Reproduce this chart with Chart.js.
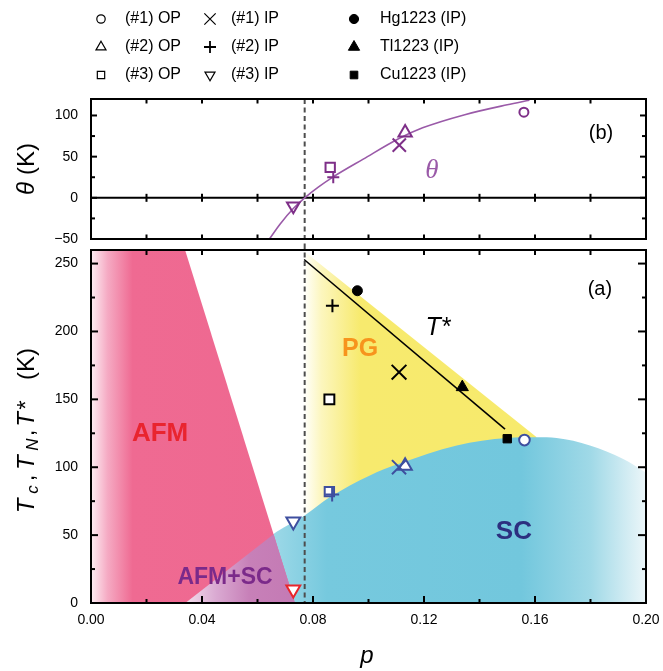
<!DOCTYPE html>
<html><head><meta charset="utf-8">
<script src="https://cdn.jsdelivr.net/npm/chart.js@4.4.1/dist/chart.umd.min.js"></script>
<style>
html,body{margin:0;padding:0;background:#fff;}
#wrap{position:relative;width:663px;height:671px;overflow:hidden;background:#fff;}
canvas{position:absolute;left:0;}
#c1{top:0;} #c2{top:240px;}
</style></head><body>
<div id="wrap"><canvas id="c1" width="663" height="250"></canvas><canvas id="c2" width="663" height="431"></canvas></div>
<script>
// ---------------- data ----------------
const xTickLabels = [0, 0.04, 0.08, 0.12, 0.16, 0.20];
const thetaTickLabels = [-50, 0, 50, 100];
const tempTickLabels = [0, 50, 100, 150, 200, 250];
const pDashed = 0.077;

// panel (b): theta
const thetaNames = ['(#1) OP', '(#2) OP', '(#3) OP', '(#1) IP', '(#2) IP', '(#3) IP'];
const thetaP = [0.156, 0.1132, 0.0862, 0.1111, 0.0873, 0.0729];
const thetaK = [104, 79, 37, 64, 25, -10];
const thetaCurveP = [0.0643, 0.0681, 0.0729, 0.0770, 0.0819, 0.0873, 0.0981, 0.1110, 0.1195, 0.1347, 0.1500, 0.1580];
const thetaCurveK = [-50, -32, -13, 0, 13, 25.5, 47, 72, 85, 101, 113, 118.5];

// panel (a): T*, Tc, TN
const tStarNames = ['(#3) OP', '(#2) IP', '(#1) IP', 'Hg1223 (IP)', 'Tl1223 (IP)', 'Cu1223 (IP)'];
const tStarP = [0.0859, 0.0870, 0.1110, 0.0960, 0.1338, 0.1500];
const tStarK = [150, 219, 170, 230, 159, 121];
const tcNames = ['(#1) OP', '(#2) OP', '(#3) OP', '(#1) IP', '(#2) IP', '(#3) IP'];
const tcP = [0.1562, 0.1132, 0.0859, 0.1110, 0.0869, 0.0729];
const tcK = [120, 101, 82, 100, 80, 60];
const tnP = [0.0729];
const tnK = [10];
const tStarLineP = [0.0768, 0.1492];
const tStarLineK = [253, 128];

// phase regions (boundaries)
const afmP = [0, 0, 0.0339, 0.0735];
const afmK = [0, 260, 260, 0];
const pgP = [0.0768, 0.0768, 0.1606, 0.1606];
const pgK = [0, 259, 122, 0];
const scP = [0.034, 0.050, 0.0669, 0.0771, 0.0861, 0.1005, 0.111, 0.1318, 0.150, 0.1606, 0.1678, 0.1798, 0.1918, 0.200];
const scK = [0, 25.5, 52.4, 64.6, 78, 94, 102.5, 116, 121.5, 122, 121.5, 116, 106, 96];
const afmScP = [0.034, 0.0658, 0.0735];
const afmScK = [0, 50.6, 0];

// region labels
const regionText = ['AFM', 'PG', 'SC', 'AFM+SC', '(a)'];
const regionP = [0.0249, 0.097, 0.1524, 0.0483, 0.1834];
const regionK = [124.5, 186.7, 52.4, 18.3, 230.6];

// legend
const legendCol1 = ['(#1) OP', '(#2) OP', '(#3) OP'];
const legendCol2 = ['(#1) IP', '(#2) IP', '(#3) IP'];
const legendCol3 = ['Hg1223 (IP)', 'Tl1223 (IP)', 'Cu1223 (IP)'];

// ---------------- helpers ----------------
const SANS = '"Liberation Sans", Arial, Helvetica, sans-serif';
const SERIF = '"Liberation Serif", "DejaVu Serif", serif';
const BLUE = '#3e4f9f';
const RED = '#e8262b';
const PURPLE = '#7e2f88';
const THETA_COL = '#9a5aa8';

const pts = (P, K) => P.map((p, i) => ({x: p, y: K[i]}));

function hGrad(chart, stops, fallback) {
  const a = chart.chartArea;
  if (!a) return fallback;
  const xs = chart.scales.x;
  const x0 = xs.getPixelForValue(stops[0][0]);
  const x1 = xs.getPixelForValue(stops[stops.length - 1][0]);
  const g = chart.ctx.createLinearGradient(x0, 0, x1, 0);
  stops.forEach(([p, c]) => g.addColorStop(Math.min(1, Math.max(0, (xs.getPixelForValue(p) - x0) / (x1 - x0))), c));
  return g;
}

function drawSym(ctx, style, x, y, r, rot, stroke, fill, lw) {
  ctx.save();
  ctx.lineWidth = lw; ctx.strokeStyle = stroke; ctx.fillStyle = fill || 'rgba(0,0,0,0)';
  ctx.beginPath();
  if (style === 'circle') {
    ctx.arc(x, y, r, 0, Math.PI * 2);
  } else if (style === 'triangle') {
    let rad = rot * Math.PI / 180;
    for (let i = 0; i < 3; i++) {
      const px = x + Math.sin(rad) * r, py = y - Math.cos(rad) * r;
      if (i === 0) ctx.moveTo(px, py); else ctx.lineTo(px, py);
      rad += 2 * Math.PI / 3;
    }
    ctx.closePath();
  } else if (style === 'rect') {
    const s = r * Math.SQRT1_2;
    ctx.rect(x - s, y - s, 2 * s, 2 * s);
  } else if (style === 'cross') {
    ctx.moveTo(x - r, y); ctx.lineTo(x + r, y); ctx.moveTo(x, y - r); ctx.lineTo(x, y + r);
  } else if (style === 'crossRot') {
    const d = r * Math.SQRT1_2;
    ctx.moveTo(x - d, y - d); ctx.lineTo(x + d, y + d); ctx.moveTo(x - d, y + d); ctx.lineTo(x + d, y - d);
  }
  if (fill && style !== 'cross' && style !== 'crossRot') ctx.fill();
  ctx.stroke();
  ctx.restore();
}

function frameTicks(chart, xT, yT) {
  const {ctx, chartArea: a, scales: {x, y}} = chart;
  ctx.save();
  ctx.strokeStyle = '#000'; ctx.lineWidth = 2;
  const line = (x1, y1, x2, y2) => { ctx.beginPath(); ctx.moveTo(x1, y1); ctx.lineTo(x2, y2); ctx.stroke(); };
  xT.forEach(([v, lb, lt]) => { const px = x.getPixelForValue(v); line(px, a.bottom, px, a.bottom - lb); line(px, a.top, px, a.top + lt); });
  yT.forEach(([v, ll, lr]) => { const py = y.getPixelForValue(v); line(a.left, py, a.left + ll, py); line(a.right, py, a.right - lr, py); });
  ctx.lineWidth = 2;
  ctx.strokeRect(a.left, a.top, a.right - a.left, a.bottom - a.top);
  ctx.restore();
}

function dashedV(chart, yFrom, yTo) {
  const {ctx, scales: {x}} = chart;
  const px = x.getPixelForValue(pDashed);
  ctx.save();
  ctx.strokeStyle = '#4d4d4d'; ctx.lineWidth = 2; ctx.setLineDash([5, 3.5]);
  ctx.beginPath(); ctx.moveTo(px, yFrom); ctx.lineTo(px, yTo); ctx.stroke();
  ctx.restore();
}

function rotText(ctx, bx, by, segs) {
  ctx.save();
  ctx.translate(bx, by); ctx.rotate(-Math.PI / 2);
  ctx.fillStyle = '#000'; ctx.textBaseline = 'alphabetic'; ctx.textAlign = 'left';
  segs.forEach(s => { ctx.font = s.f; ctx.fillText(s.t, s.dx, s.dy || 0); });
  ctx.restore();
}

const baseOpts = {
  responsive: false, animation: false, events: [], devicePixelRatio: 1,
  plugins: {legend: {display: false}, tooltip: {enabled: false}},
};

// ---------------- top chart (b) ----------------
const topXT = [];
for (let i = 1; i < 10; i++) topXT.push([i * 0.02, 4.5, 4.5]);
const topYT = [];
for (let v = -25; v < 120; v += 25) topYT.push([v, v % 50 === 0 ? 6 : 4, v % 50 === 0 ? 6 : 4]);

const topPlugin = {
  id: 'topDecor',
  beforeDatasetsDraw(chart) {
    const {ctx, chartArea: a, scales: {x, y}} = chart;
    dashedV(chart, a.top, 244);
    const y0 = y.getPixelForValue(0);
    ctx.save(); ctx.strokeStyle = '#000'; ctx.lineWidth = 2;
    ctx.beginPath(); ctx.moveTo(a.left, y0); ctx.lineTo(a.right, y0); ctx.stroke();
    topXT.forEach(([v]) => { const px = x.getPixelForValue(v); ctx.beginPath(); ctx.moveTo(px, y0 - 4); ctx.lineTo(px, y0 + 4); ctx.stroke(); });
    ctx.restore();
  },
  afterDatasetsDraw(chart) {
    const {ctx, scales: {x, y}} = chart;
    ctx.save();
    ctx.textAlign = 'center'; ctx.textBaseline = 'middle';
    ctx.fillStyle = '#000'; ctx.font = '20px ' + SANS;
    ctx.fillText('(b)', x.getPixelForValue(0.1838), y.getPixelForValue(78.6));
    ctx.fillStyle = THETA_COL; ctx.font = 'italic 27px ' + SERIF;
    ctx.fillText('θ', x.getPixelForValue(0.1228), y.getPixelForValue(32.2));
    ctx.restore();
  },
  afterDraw(chart) {
    const ctx = chart.ctx;
    frameTicks(chart, topXT, topYT);
    rotText(ctx, 34, 195, [
      {t: 'θ', f: 'italic 24px ' + SANS, dx: 0},
      {t: '(K)', f: '24px ' + SANS, dx: 20}
    ]);
    // legend
    const rows = [19, 47, 75];
    const c1 = [['circle', 4.2, 0], ['triangle', 5.8, 0], ['rect', 5.2, 0]];
    const c2 = [['crossRot', 8, 0], ['cross', 6, 0], ['triangle', 5.8, 180]];
    const c3 = [['circle', 4.6, 0], ['triangle', 6.5, 0], ['rect', 5.4, 0]];
    ctx.save();
    ctx.fillStyle = '#000'; ctx.font = '16px ' + SANS; ctx.textBaseline = 'middle'; ctx.textAlign = 'left';
    rows.forEach((ry, i) => {
      drawSym(ctx, c1[i][0], 101, ry, c1[i][1], c1[i][2], '#000', null, 1.2);
      ctx.fillText(legendCol1[i], 125, ry);
      drawSym(ctx, c2[i][0], 210, ry, c2[i][1], c2[i][2], '#000', null, c2[i][0] === 'cross' ? 1.8 : 1.2);
      ctx.fillText(legendCol2[i], 231, ry);
      drawSym(ctx, c3[i][0], 354, ry, c3[i][1], c3[i][2], '#000', '#000', 1);
      ctx.fillText(legendCol3[i], 380, ry);
    });
    ctx.restore();
  }
};

new Chart(document.getElementById('c1'), {
  type: 'line',
  data: {
    datasets: [
      {
        data: pts(thetaP, thetaK), showLine: false,
        pointStyle: ['circle', 'triangle', 'rect', 'crossRot', 'cross', 'triangle'],
        pointRadius: [4.5, 7.7, 6.6, 9.4, 6, 7.3],
        pointRotation: [0, 0, 0, 0, 0, 180],
        pointBorderColor: PURPLE, pointBackgroundColor: 'rgba(255,255,255,0)', pointBorderWidth: 2,
        order: 1
      },
      {
        data: pts(thetaCurveP, thetaCurveK), borderColor: THETA_COL, borderWidth: 1.6,
        pointRadius: 0, fill: false, cubicInterpolationMode: 'monotone', order: 2
      }
    ]
  },
  options: {
    ...baseOpts,
    layout: {padding: {top: 99, left: 0, right: 17, bottom: 11}},
    scales: {
      x: {type: 'linear', min: 0, max: 0.2, grid: {display: false, drawTicks: false}, border: {display: false},
          ticks: {display: false}, afterFit: s => { s.height = 0; s.paddingLeft = 0; s.paddingRight = 0; }},
      y: {type: 'linear', min: -50, max: 120, grid: {display: false, drawTicks: false}, border: {display: false},
          ticks: {stepSize: 50, includeBounds: false, color: '#000', padding: 13, font: {family: SANS, size: 14},
                  callback: v => (thetaTickLabels.includes(v) ? String(v).replace('-', '\u2212') : '')},
          afterFit: s => { s.width = 91; s.paddingTop = 0; s.paddingBottom = 0; }}
    }
  },
  plugins: [topPlugin]
});

// ---------------- bottom chart (a) ----------------
const botXT = [];
for (let i = 1; i < 10; i++) botXT.push([i * 0.02, i % 2 === 0 ? 7 : 4, 5]);
const botYT = [];
for (let v = 25; v < 260; v += 25) botYT.push([v, v % 50 === 0 ? 7 : 4, v % 50 === 0 ? 8 : 4]);

const botPlugin = {
  id: 'botDecor',
  afterDatasetDraw(chart, args) {
    if (chart.data.datasets[args.index].tag === 'lastFill') dashedV(chart, 4, chart.chartArea.bottom);
  },
  afterDatasetsDraw(chart) {
    const {ctx, scales: {x, y}} = chart;
    const styles = [
      ['bold 26px ' + SANS, '#e9242f'],
      ['bold 25px ' + SANS, '#f7941d'],
      ['bold 26px ' + SANS, '#2c2f7f'],
      ['bold 23px ' + SANS, '#7b2a8a'],
      ['20px ' + SANS, '#000']
    ];
    ctx.save();
    ctx.textAlign = 'center'; ctx.textBaseline = 'middle';
    regionText.forEach((t, i) => {
      ctx.font = styles[i][0]; ctx.fillStyle = styles[i][1];
      ctx.fillText(t, x.getPixelForValue(regionP[i]), y.getPixelForValue(regionK[i]));
    });
    ctx.font = 'italic 25px ' + SANS; ctx.fillStyle = '#000';
    ctx.fillText('T*', x.getPixelForValue(0.125), y.getPixelForValue(202.5));
    ctx.restore();
  },
  afterDraw(chart) {
    const ctx = chart.ctx;
    frameTicks(chart, botXT, botYT);
    ctx.save();
    ctx.fillStyle = '#000'; ctx.font = 'italic 24px ' + SANS; ctx.textAlign = 'center'; ctx.textBaseline = 'alphabetic';
    ctx.fillText('p', 367, 423);
    ctx.restore();
    const it = 'italic 24px ' + SANS, sub = 'italic 17px ' + SANS, nor = '24px ' + SANS;
    rotText(ctx, 34, 273.3, [
      {t: 'T', f: it, dx: 0}, {t: 'c', f: sub, dx: 19.5, dy: 4},
      {t: ',', f: nor, dx: 32}, {t: 'T', f: it, dx: 43.3}, {t: 'N', f: sub, dx: 62.5, dy: 4},
      {t: ',', f: nor, dx: 77}, {t: 'T', f: it, dx: 86.6}, {t: '*', f: nor, dx: 103.5},
      {t: '(K)', f: nor, dx: 133.3}
    ]);
  }
};

new Chart(document.getElementById('c2'), {
  type: 'line',
  data: {
    datasets: [
      { // PG region
        data: pts(pgP, pgK), fill: 'origin', borderWidth: 0, pointRadius: 0, order: 20,
        backgroundColor: c => hGrad(c.chart, [[0.0768, 'rgb(255,255,252)'], [0.083, 'rgb(252,246,190)'], [0.097, 'rgb(247,234,110)'], [0.1606, 'rgb(247,234,108)']], 'rgb(247,234,110)')
      },
      { // SC dome
        data: pts(scP, scK), fill: 'origin', borderWidth: 0, pointRadius: 0, order: 19,
        cubicInterpolationMode: 'monotone',
        backgroundColor: c => hGrad(c.chart, [[0.034, 'rgb(238,247,250)'], [0.06, 'rgb(168,221,234)'], [0.085, 'rgb(118,201,222)'], [0.155, 'rgb(114,199,221)'], [0.18, 'rgb(160,217,231)'], [0.2, 'rgb(236,246,249)']], 'rgb(118,201,222)')
      },
      { // AFM
        data: pts(afmP, afmK), fill: 'origin', borderWidth: 0, pointRadius: 0, order: 18,
        backgroundColor: c => hGrad(c.chart, [[0, 'rgb(253,238,243)'], [0.006, 'rgb(245,170,195)'], [0.015, 'rgb(239,106,146)'], [0.0735, 'rgb(238,104,144)']], 'rgb(239,106,146)')
      },
      { // AFM+SC overlap
        data: pts(afmScP, afmScK), fill: 'origin', borderWidth: 0, pointRadius: 0, order: 17, tag: 'lastFill',
        backgroundColor: c => hGrad(c.chart, [[0.034, 'rgb(242,222,236)'], [0.045, 'rgb(218,170,210)'], [0.057, 'rgb(199,128,184)'], [0.0735, 'rgb(196,122,180)']], 'rgb(199,128,184)')
      },
      { // T* line
        data: pts(tStarLineP, tStarLineK), borderColor: '#000', borderWidth: 1.6, pointRadius: 0, fill: false, order: 10
      },
      { // T* markers
        data: pts(tStarP, tStarK), showLine: false, order: 3,
        pointStyle: ['rect', 'cross', 'crossRot', 'circle', 'triangle', 'rect'],
        pointRadius: [7, 6.5, 10.4, 5, 7, 5.9],
        pointRotation: 0,
        pointBorderColor: '#000',
        pointBackgroundColor: ['#fff', '#fff', '#fff', '#000', '#000', '#000'],
        pointBorderWidth: [2, 2, 2, 1, 1, 1]
      },
      { // Tc markers
        data: pts(tcP, tcK), showLine: false, order: 2,
        pointStyle: ['circle', 'triangle', 'rect', 'crossRot', 'cross', 'triangle'],
        pointRadius: [5.3, 7.7, 6.6, 10, 7, 8],
        pointRotation: [0, 0, 0, 0, 0, 180],
        pointBorderColor: BLUE, pointBackgroundColor: '#fff', pointBorderWidth: 2
      },
      { // TN marker
        data: pts(tnP, tnK), showLine: false, order: 1,
        pointStyle: 'triangle', pointRadius: 8, pointRotation: 180,
        pointBorderColor: RED, pointBackgroundColor: '#fff', pointBorderWidth: 2
      }
    ]
  },
  options: {
    ...baseOpts,
    layout: {padding: {top: 9, left: 0, right: 17, bottom: 0}},
    scales: {
      x: {type: 'linear', min: 0, max: 0.2, grid: {display: false, drawTicks: false}, border: {display: false},
          ticks: {stepSize: 0.04, includeBounds: false, maxRotation: 0, autoSkip: false, color: '#000', padding: 9,
                  font: {family: SANS, size: 14}, callback: v => v.toFixed(2)},
          afterFit: s => { s.height = 68; s.paddingLeft = 0; s.paddingRight = 0; }},
      y: {type: 'linear', min: 0, max: 260, grid: {display: false, drawTicks: false}, border: {display: false},
          ticks: {stepSize: 50, includeBounds: false, color: '#000', padding: 13, font: {family: SANS, size: 14},
                  callback: v => (tempTickLabels.includes(v) ? String(v) : '')},
          afterFit: s => { s.width = 91; s.paddingTop = 0; s.paddingBottom = 0; }}
    }
  },
  plugins: [botPlugin]
});
</script>
</body></html>
